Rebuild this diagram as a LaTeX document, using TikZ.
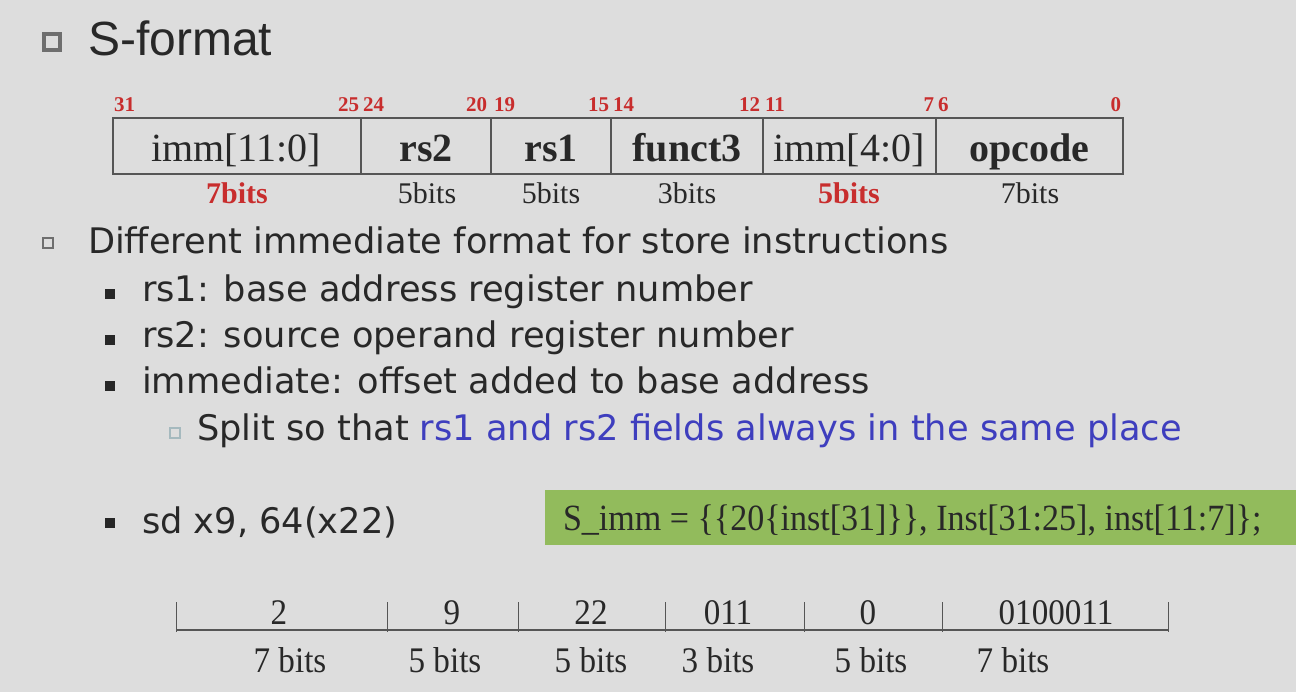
\documentclass[tikz,border=0pt]{standalone}
\usepackage{fontspec}
\usepackage{graphicx}
\setmainfont{Liberation Serif}
\newfontfamily\vfont{DejaVu Sans}
\newfontfamily\afont{Liberation Sans}
\newcommand{\cnd}[1]{\scalebox{0.92}[1]{#1}}
\definecolor{bg}{RGB}{221,221,221}
\definecolor{txt}{RGB}{40,40,40}
\definecolor{redn}{RGB}{200,45,45}
\definecolor{greenbox}{RGB}{146,187,92}
\definecolor{bluetxt}{RGB}{62,62,190}
\definecolor{bulgray}{RGB}{110,110,110}
\definecolor{bullight}{RGB}{165,185,190}
\definecolor{linegray}{RGB}{85,85,85}
\begin{document}
\begin{tikzpicture}[x=1pt,y=-1pt,
 every node/.style={inner sep=0pt, outer sep=0pt, text=txt},
 bul/.style={anchor=base west, font=\vfont\fontsize{35.2}{42}\selectfont},
 field/.style={anchor=base, font=\fontsize{40}{48}\selectfont},
 fieldb/.style={anchor=base, font=\bfseries\fontsize{40}{48}\selectfont},
 bitnum/.style={font=\bfseries\fontsize{21}{25}\selectfont, text=redn},
 bitlab/.style={anchor=base, font=\fontsize{30}{36}\selectfont},
 bitlabr/.style={anchor=base, font=\bfseries\fontsize{30}{36}\selectfont, text=redn},
 val/.style={anchor=base, font=\fontsize{36}{42}\selectfont},
 tbl/.style={draw=linegray, line width=1.5pt},
 lvlone/.style={draw=bulgray, line width=2.2pt},
 lvltwo/.style={fill=black!85},
 lvlthree/.style={draw=bullight, line width=1.5pt},
]
\fill[bg] (0,0) rectangle (1296,692);
\useasboundingbox (0,0) rectangle (1296,692);

% title
\draw[bulgray, line width=3.5pt] (44,34) rectangle (60,50);
\node[anchor=base west, font=\afont\fontsize{48}{58}\selectfont] (title) at (88,56) {S-format};

% top table
\draw[tbl] (113,118) rectangle (1123,174);
\foreach \x in {361,491,611,763,936} \draw[tbl] (\x,118) -- (\x,174);

\node[field]  (f1) at (236,162) {imm[11:0]};
\node[fieldb] (f2) at (426,162) {rs2};
\node[fieldb] (f3) at (551,162) {rs1};
\node[fieldb] (f4) at (687,162) {funct3};
\node[field]  (f5) at (849,162) {imm[4:0]};
\node[fieldb] (f6) at (1029,162) {opcode};

\node[bitnum, anchor=base west] (n31) at (114,112) {31};
\node[bitnum, anchor=base east] (n25) at (359,112) {25};
\node[bitnum, anchor=base west] (n24) at (363,112) {24};
\node[bitnum, anchor=base east] (n20) at (487,112) {20};
\node[bitnum, anchor=base west] (n19) at (494,112) {19};
\node[bitnum, anchor=base east] (n15) at (609,112) {15};
\node[bitnum, anchor=base west] (n14) at (613,112) {14};
\node[bitnum, anchor=base east] (n12) at (760,112) {12};
\node[bitnum, anchor=base west] (n11) at (765,112) {11};
\node[bitnum, anchor=base east] (n7)  at (934,112) {7};
\node[bitnum, anchor=base west] (n6)  at (938,112) {6};
\node[bitnum, anchor=base east] (n0)  at (1121,112) {0};

\node[bitlabr] (b1) at (237,204) {7bits};
\node[bitlab]  (b2) at (427,204) {5bits};
\node[bitlab]  (b3) at (551,204) {5bits};
\node[bitlab]  (b4) at (687,204) {3bits};
\node[bitlabr] (b5) at (849,204) {5bits};
\node[bitlab]  (b6) at (1030,204) {7bits};

% bullets
\draw[lvlone] (43,238) rectangle (53,248);
\node[bul] (l1) at (88,254) {Different immediate format for store instructions};
\fill[lvltwo] (105,289) rectangle (115,299);
\node[bul] (l2) at (142,302) {rs1: base address register number};
\fill[lvltwo] (105,335) rectangle (115,345);
\node[bul] (l3) at (142,348) {rs2: source operand register number};
\fill[lvltwo] (105,381) rectangle (115,391);
\node[bul] (l4) at (142,394) {immediate: offset added to base address};
\draw[lvlthree] (170,428) rectangle (180,438);
\node[bul] (l5) at (197,441) {Split so that {\color{bluetxt}rs1 and rs2 fields always in the same place}};
\fill[lvltwo] (105,518) rectangle (115,528);
\node[bul] (l6) at (142,533) {sd x9, 64(x22)};

% green box
\fill[greenbox] (545,490) rectangle (1296,545);
\node[anchor=base west, font=\fontsize{37}{44}\selectfont] (simm) at (563,530) {\cnd{S\_imm = \{\{20\{inst[31]\}\}, Inst[31:25], inst[11:7]\};}};

% bottom table
\draw[linegray, line width=2pt] (176,630) -- (1168,630);
\foreach \x in {176,387,518,665,804,942,1168} \draw[linegray, line width=1pt] (\x,602) -- (\x,632);
\node[val] (v1) at (279,624) {\cnd{2}};
\node[val] (v2) at (452,624) {\cnd{9}};
\node[val] (v3) at (591,624) {\cnd{22}};
\node[val] (v4) at (728,624) {\cnd{011}};
\node[val] (v5) at (868,624) {\cnd{0}};
\node[val] (v6) at (1056,624) {\cnd{0100011}};
\node[val] (w1) at (290,672) {\cnd{7 bits}};
\node[val] (w2) at (445,672) {\cnd{5 bits}};
\node[val] (w3) at (591,672) {\cnd{5 bits}};
\node[val] (w4) at (718,672) {\cnd{3 bits}};
\node[val] (w5) at (871,672) {\cnd{5 bits}};
\node[val] (w6) at (1013,672) {\cnd{7 bits}};
\end{tikzpicture}
\end{document}
